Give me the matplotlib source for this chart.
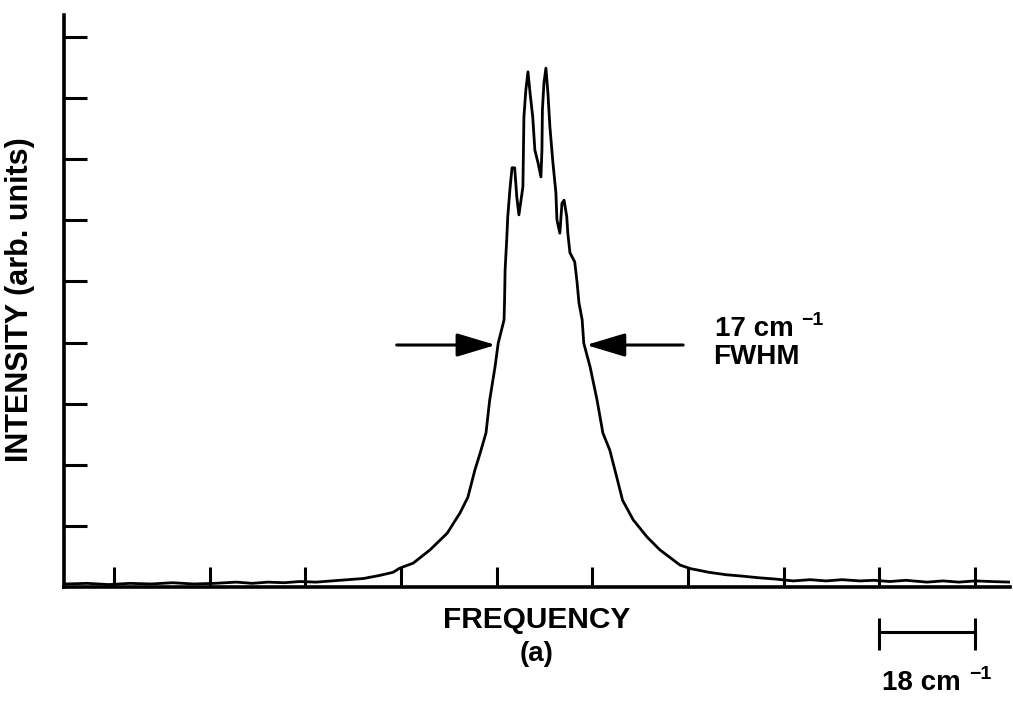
import matplotlib
matplotlib.use("Agg")
import matplotlib.pyplot as plt

plt.rcParams['font.family'] = ['Liberation Sans', 'DejaVu Sans']
plt.rcParams['font.weight'] = 'bold'

## spectrum trace (frequency relative to line centre, cm^-1 ; intensity in tick units)
freq = [-90.0, -86.0, -82.0, -78.0, -74.0, -70.0, -66.0, -62.0, -58.0, -55.0,
        -52.0, -49.0, -46.0, -43.0, -40.0, -37.0, -34.0, -31.0, -28.5, -27.2,
        -24.7, -21.5, -18.3, -15.9, -14.4, -13.1, -12.1, -11.0, -10.3, -9.3,
        -8.7, -7.6, -7.5, -7.4, -7.1, -6.9, -6.5, -6.1, -5.6, -5.2,
        -4.8, -4.05, -3.86, -3.5, -3.1, -2.7, -2.2, -1.8, -1.2, -0.66,
        -0.47, -0.38, -0.09, 0.28, 0.66, 1.03, 1.6, 2.16, 2.35, 2.9,
        3.3, 3.7, 4.2, 4.4, 4.8, 5.7, 6.1, 6.5, 7.1, 7.4,
        8.6, 9.9, 11.0, 12.3, 13.6, 14.7, 16.7, 19.3, 21.7, 25.5,
        27.5, 28.7, 31.0, 34.3, 37.0, 40.5, 43.5, 46.8, 50.0, 53.0,
        56.0, 59.4, 62.0, 65.0, 68.0, 72.0, 75.0, 78.0, 81.0, 84.0,
        87.6]
intensity = [0.05, 0.06, 0.04, 0.06, 0.05, 0.07, 0.05, 0.06, 0.08, 0.06,
             0.08, 0.07, 0.09, 0.08, 0.10, 0.12, 0.14, 0.19, 0.24, 0.31,
             0.39, 0.61, 0.88, 1.21, 1.47, 1.91, 2.19, 2.52, 3.06, 3.60,
             3.99, 4.37, 4.70, 5.19, 5.68, 6.06, 6.50, 6.86, 6.86, 6.38,
             6.09, 6.55, 7.69, 8.13, 8.43, 8.08, 7.69, 7.15, 6.94, 6.71,
             7.15, 7.81, 8.25, 8.49, 8.08, 7.53, 6.94, 6.45, 6.01, 5.79,
             6.28, 6.33, 6.06, 5.79, 5.47, 5.32, 5.02, 4.65, 4.37, 3.99,
             3.60, 3.06, 2.52, 2.24, 1.80, 1.42, 1.10, 0.82, 0.61, 0.36,
             0.30, 0.28, 0.24, 0.20, 0.18, 0.15, 0.13, 0.10, 0.12, 0.10,
             0.12, 0.10, 0.11, 0.09, 0.11, 0.08, 0.10, 0.08, 0.10, 0.09,
             0.08]

xticks = [-81, -63, -45, -27, -9, 9, 27, 45, 63, 81]
yticks = [1, 2, 3, 4, 5, 6, 7, 8, 9]

fwhm = 17.0          # cm^-1
fwhm_centre = -0.66
half_level = 3.96
scale_bar = 18.0     # cm^-1
scale_start = 63.0

fig = plt.figure(figsize=(10.13, 7.01), dpi=100)
ax = fig.add_axes([0.0632, 0.1626, 0.9338, 0.816])

ax.plot(freq, intensity, color='black', lw=2.0)

ax.set_xlim(-90.4, 87.6)
ax.set_ylim(0, 9.36)
for s in ['top', 'right']:
    ax.spines[s].set_visible(False)
for s in ['left', 'bottom']:
    ax.spines[s].set_linewidth(2.6)
ax.set_xticks(xticks)
ax.set_yticks(yticks)
ax.set_xticklabels([])
ax.set_yticklabels([])
ax.tick_params(axis='x', direction='in', length=14.5, width=2.2)
ax.tick_params(axis='y', direction='in', length=16.5, width=2.2)

# FWHM arrows
arrow_kw = dict(arrowstyle='-|>,head_length=1.2,head_width=0.36', lw=2.2,
                color='black', fc='black', shrinkA=0, shrinkB=0, mutation_scale=20)
left_tip = fwhm_centre - fwhm / 2
right_tip = fwhm_centre + fwhm / 2
ax.annotate('', xy=(left_tip, half_level), xytext=(-27.8, half_level), arrowprops=arrow_kw)
ax.annotate('', xy=(right_tip, half_level), xytext=(26.1, half_level), arrowprops=arrow_kw)

fs = 20
t1 = ax.text(32.1, 4.11, '%d cm' % fwhm, fontsize=fs, ha='left', va='baseline')
ax.annotate('\u22121', xy=(1, 1), xycoords=t1, xytext=(5.5, 3.0),
            textcoords='offset points', fontsize=14, ha='left', va='top')
ax.text(31.8, 3.65, 'FWHM', fontsize=fs, ha='left', va='baseline')

# frequency scale bar
bar_y = -0.74
ax.plot([scale_start, scale_start + scale_bar], [bar_y, bar_y], color='black',
        lw=2.2, clip_on=False)
ax.vlines([scale_start, scale_start + scale_bar], -1.03, -0.51, color='black',
          lw=2.2, clip_on=False)
t2 = ax.text(scale_start + scale_bar / 2 - 1.0, -1.686, '%d cm' % scale_bar,
             fontsize=fs, ha='center', va='baseline', clip_on=False)
ax.annotate('\u22121', xy=(1, 1), xycoords=t2, xytext=(5.5, 3.0),
            textcoords='offset points', fontsize=14, ha='left', va='top')

fig.text(0.530, 0.1040, 'FREQUENCY', fontsize=21.5, ha='center', va='baseline')
fig.text(0.530, 0.0570, '(a)', fontsize=20, ha='center', va='baseline')
fig.text(0.0197, 0.572, 'INTENSITY (arb. units)', fontsize=22, rotation=90,
         ha='center', va='center')

plt.savefig('out.png', dpi=100)
